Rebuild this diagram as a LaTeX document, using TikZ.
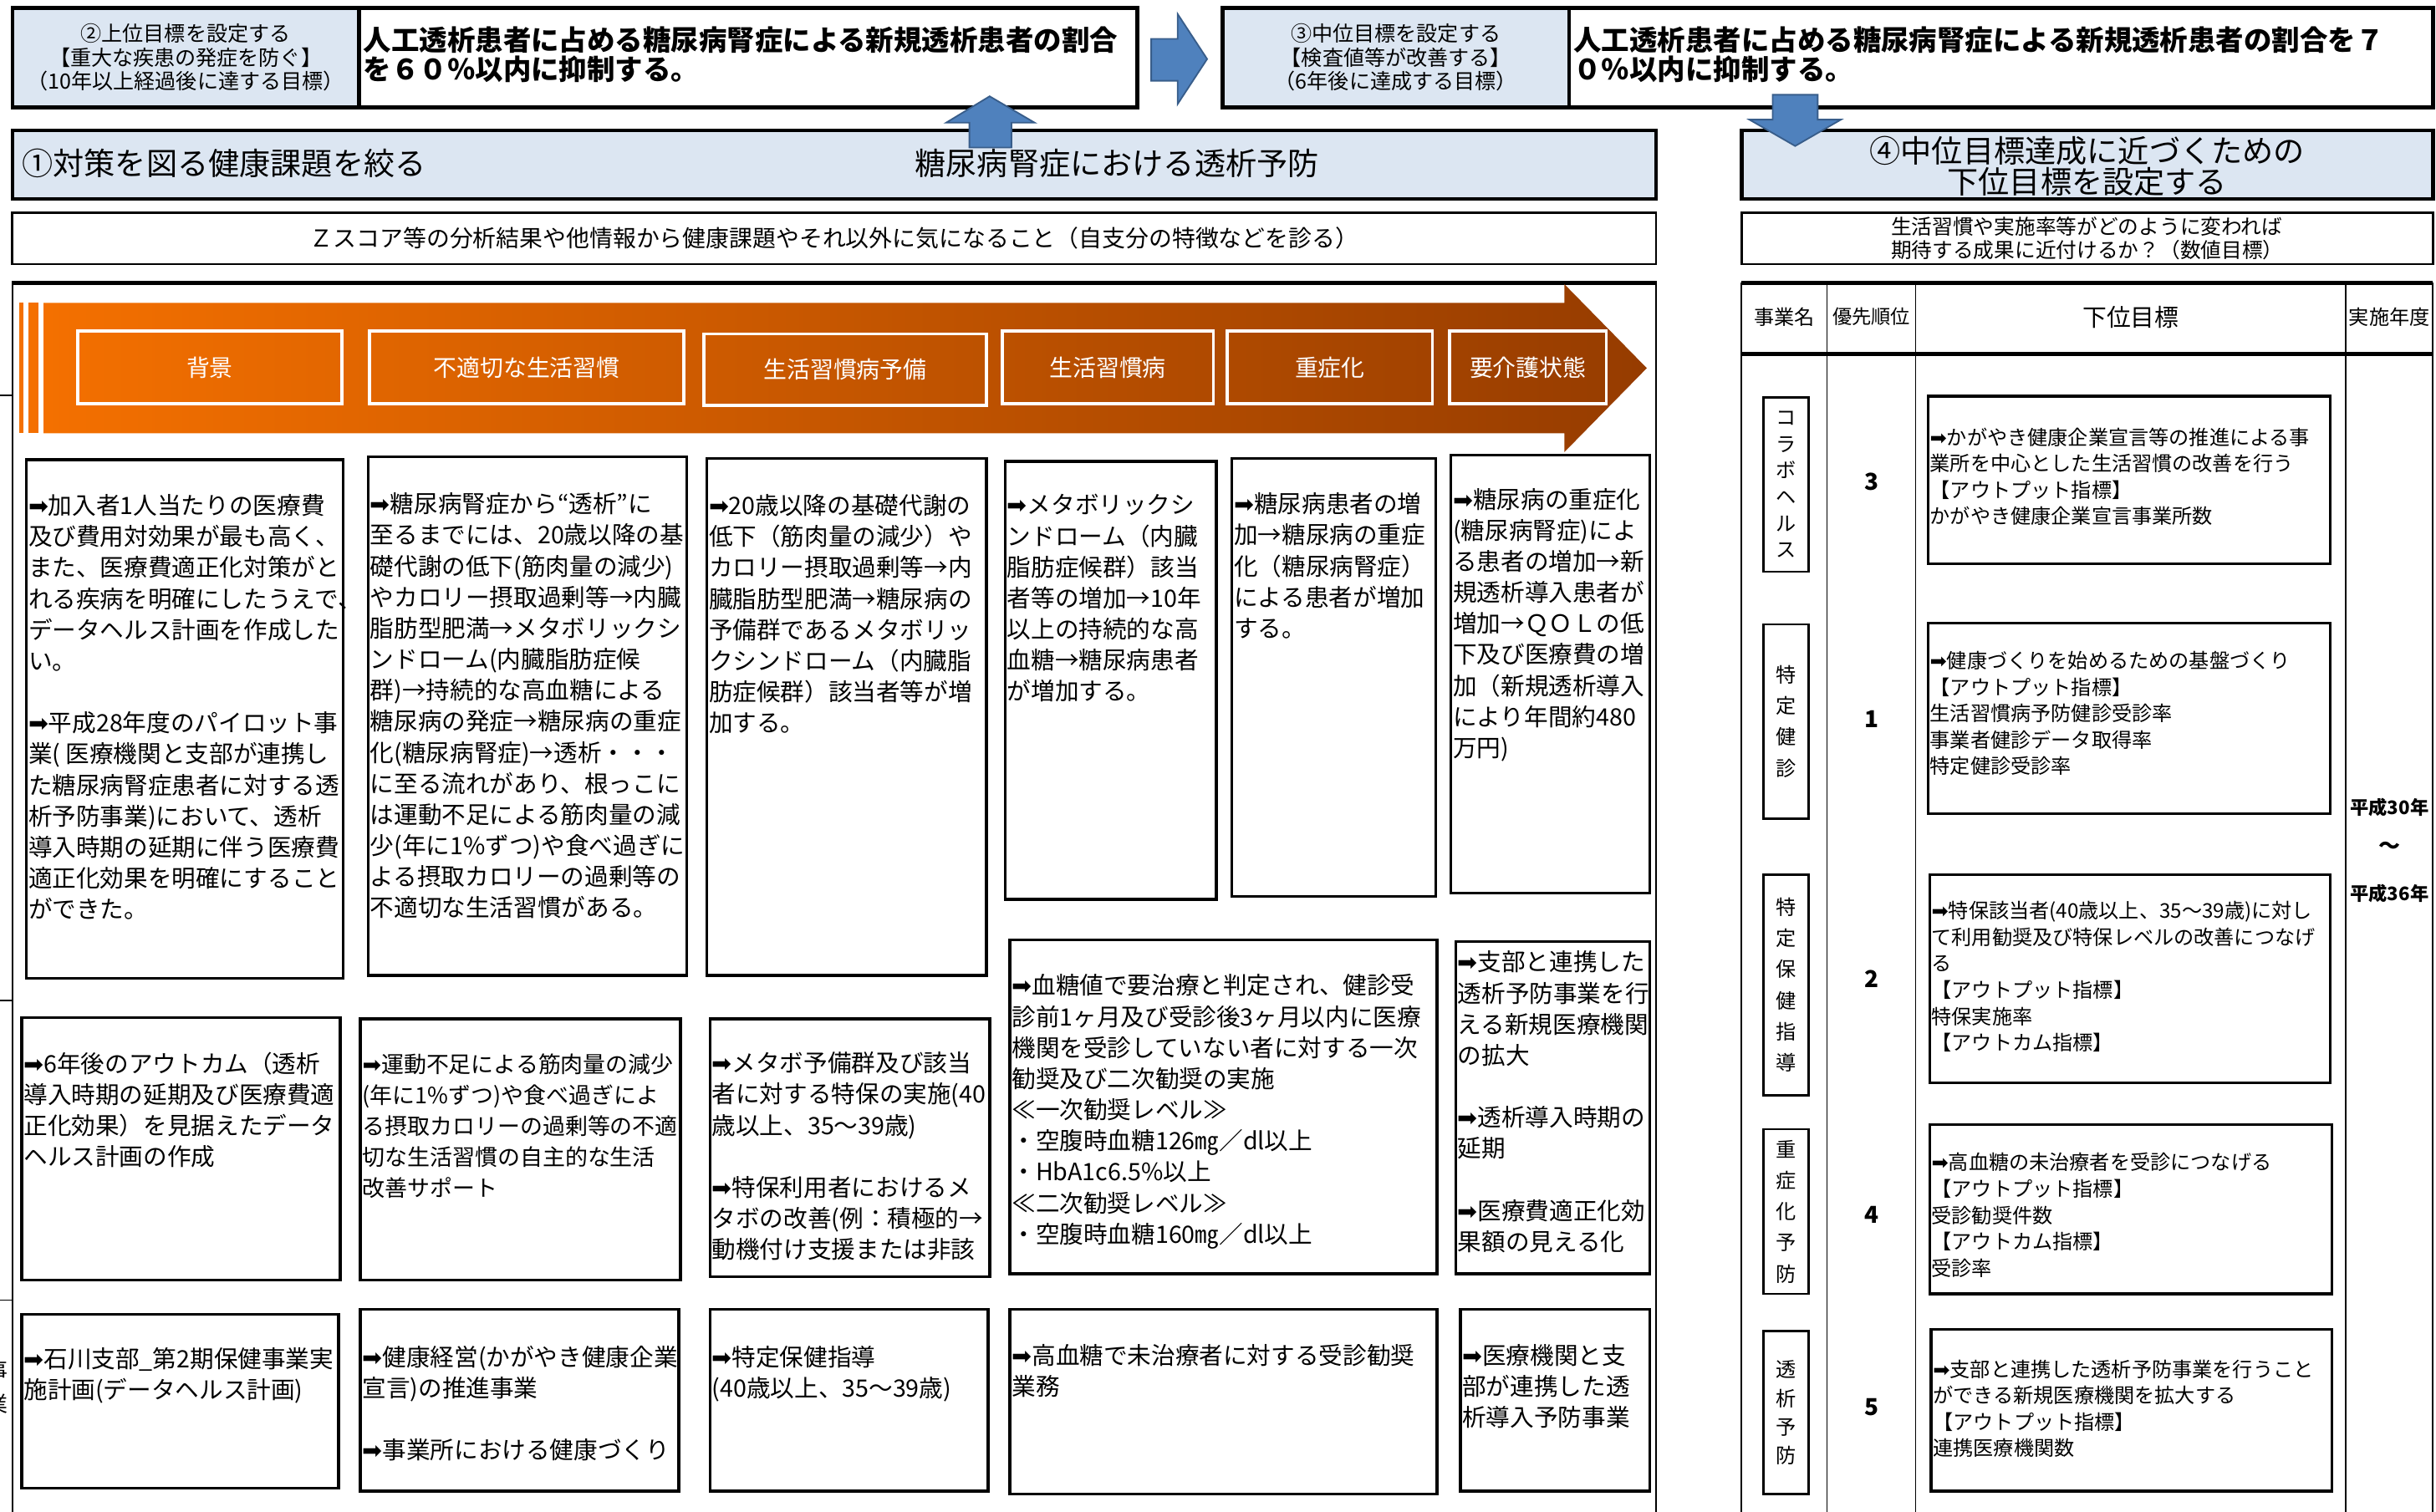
\documentclass[tikz,border=0pt]{standalone}
\usepackage{fontspec}
\setmainfont{Noto Sans CJK JP}
\newfontfamily\arrowfont{DejaVu Sans}
\usetikzlibrary{fit}

\definecolor{paleblue}{RGB}{220,230,242}
\definecolor{arrowblue}{RGB}{79,129,189}
\definecolor{arrowedge}{RGB}{56,93,138}
\definecolor{orangeL}{RGB}{244,112,0}
\definecolor{orangeR}{RGB}{150,60,0}

\newcommand{\goarrow}{{\arrowfont ➡}}

\begin{document}
\begin{tikzpicture}[
	x=1pt, y=-1pt,
	every node/.style={inner sep=0pt},
	label box/.style={draw, line width=2.5pt, fill=paleblue},
	label text/.style={align=center, font=\fontsize{13.5}{15.5}\selectfont},
	goal box/.style={draw, line width=2.5pt},
	goal line/.style={anchor=north west, align=left, font=\bfseries\fontsize{18}{19}\selectfont},
	head bar/.style={draw, line width=2.5pt, fill=paleblue},
	plain box/.style={draw, line width=1.5pt},
	stage box/.style={draw=white, line width=2pt},
	stage text/.style={text=white, font=\fontsize{15}{18}\selectfont},
	body box/.style={draw, line width=1.8pt},
	body text/.style={anchor=north west, align=left, font=\fontsize{15.4}{20}\selectfont},
	aim text/.style={anchor=north west, align=left, font=\fontsize{13}{17}\selectfont},
	name box/.style={draw, line width=1.5pt},
	name text/.style={align=center, font=\fontsize{13}{20}\selectfont},
	block arrow/.style={fill=arrowblue, draw=arrowedge, line width=1pt},
	rule/.style={line width=1pt},
	heavy rule/.style={line width=2.5pt}
]
\useasboundingbox (0,0) rectangle (1568,973);

% goals on top
\node[label box, fit={(8,5) (231,69)}] (upper) {};
\node[label text] (uppertag) at (upper.center) {②上位目標を設定する\\【重大な疾患の発症を防ぐ】\\（10年以上経過後に達する目標）};
\node[goal box, fit={(231,5) (732,69)}] (upperv) {};
\node[goal line] (uppert) at ([shift={(4,13)}]upperv.north west) {人工透析患者に占める糖尿病腎症による新規透析患者の割合\\を６０％以内に抑制する。};
\node[label box, fit={(787,5) (1010,69)}] (middle) {};
\node[label text] (middletag) at (middle.center) {③中位目標を設定する\\【検査値等が改善する】\\（6年後に達成する目標）};
\node[goal box, fit={(1010,5) (1566,69)}] (middlev) {};
\node[goal line] (middlet) at ([shift={(4,13)}]middlev.north west) {人工透析患者に占める糖尿病腎症による新規透析患者の割合を７\\０％以内に抑制する。};

% step bars
\node[head bar, fit={(8,84) (1066,128)}] (issue) {};
\node[anchor=west, font=\fontsize{20}{22}\selectfont] (issuel) at (14,105) {①対策を図る健康課題を絞る};
\node[font=\fontsize{20}{22}\selectfont] (issuer) at (719,105) {糖尿病腎症における透析予防};
\node[head bar, fit={(1121,84) (1566,128)}] (lower) {};
\node[align=center, font=\fontsize{20}{20}\selectfont] (lowert) at ([yshift=-1pt]lower.center) {④中位目標達成に近づくための\\下位目標を設定する};

\node[plain box, fit={(8,137) (1066,170)}] (zscore) {};
\node[font=\fontsize{15}{17}\selectfont] (zscoret) at (zscore.center) {Ｚスコア等の分析結果や他情報から健康課題やそれ以外に気になること（自支分の特徴などを診る）};
\node[plain box, fit={(1121,137) (1566,170)}] (howbox) {};
\node[align=left, font=\fontsize{13.3}{15}\selectfont] (howt) at (howbox.center) {生活習慣や実施率等がどのように変われば\\期待する成果に近付けるか？（数値目標）};

% left frame
\draw[heavy rule] (8,182) -- (1066,182);
\draw[rule] (8,181) -- (8,975);
\draw[rule] (1066,181) -- (1066,975);
\draw[rule] (0,254.5) -- (8,254.5);
\draw[rule] (0,644) -- (8,644);
\draw[rule] (0,837) -- (8,837);
\node[align=center, font=\fontsize{14}{22}\selectfont] (cutname) at (-2,893) {事\\業};

% orange banner
\shade[left color=orangeL, right color=orangeR] (28,195) -- (1007,195) -- (1007,183) -- (1060,237) -- (1007,291) -- (1007,279) -- (28,279) -- cycle;
\fill[orangeL] (12.5,195) rectangle (15,279);
\fill[orangeL] (18.5,195) rectangle (25,279);
\node[stage box, fit={(50,213) (220,260)}] (s1) {};
\node[stage box, fit={(238,213) (440,260)}] (s2) {};
\node[stage box, fit={(453,215) (635,261)}] (s3) {};
\node[stage box, fit={(645,213) (781,260)}] (s4) {};
\node[stage box, fit={(790,213) (922,260)}] (s5) {};
\node[stage box, fit={(933,213) (1034,260)}] (s6) {};
\node[stage text] (s1t) at (s1.center) {背景};
\node[stage text] (s2t) at (s2.center) {不適切な生活習慣};
\node[stage text] (s3t) at (s3.center) {生活習慣病予備};
\node[stage text] (s4t) at (s4.center) {生活習慣病};
\node[stage text] (s5t) at (s5.center) {重症化};
\node[stage text] (s6t) at (s6.center) {要介護状態};

% first row
\node[body box, fit={(17,296) (221,630)}] (a1) {};
\node[body text] (a1t) at ([shift={(2,23)}]a1.north west) {\goarrow 加入者1人当たりの医療費\\及び費用対効果が最も高く、\\また、医療費適正化対策がと\\れる疾病を明確にしたうえで、\\データヘルス計画を作成した\\い。\\[20pt]\goarrow 平成28年度のパイロット事\\業( 医療機関と支部が連携し\\た糖尿病腎症患者に対する透\\析予防事業)において、透析\\導入時期の延期に伴う医療費\\適正化効果を明確にすること\\ができた。};
\node[body box, fit={(237,294) (442,628)}] (a2) {};
\node[body text] (a2t) at ([shift={(2,24)}]a2.north west) {\goarrow 糖尿病腎症から“透析”に\\至るまでには、20歳以降の基\\礎代謝の低下(筋肉量の減少)\\やカロリー摂取過剰等→内臓\\脂肪型肥満→メタボリックシ\\ンドローム(内臓脂肪症候\\群)→持続的な高血糖による\\糖尿病の発症→糖尿病の重症\\化(糖尿病腎症)→透析・・・\\に至る流れがあり、根っこに\\は運動不足による筋肉量の減\\少(年に1\%ずつ)や食べ過ぎに\\よる摂取カロリーの過剰等の\\不適切な生活習慣がある。};
\node[body box, fit={(455,295) (635,628)}] (a3) {};
\node[body text] (a3t) at ([shift={(2,24)}]a3.north west) {\goarrow 20歳以降の基礎代謝の\\低下（筋肉量の減少）や\\カロリー摂取過剰等→内\\臓脂肪型肥満→糖尿病の\\予備群であるメタボリッ\\クシンドローム（内臓脂\\肪症候群）該当者等が増\\加する。};
\node[body box, fit={(647,297) (783,579)}] (a4) {};
\node[body text] (a4t) at ([shift={(2,22)}]a4.north west) {\goarrow メタボリックシ\\ンドローム（内臓\\脂肪症候群）該当\\者等の増加→10年\\以上の持続的な高\\血糖→糖尿病患者\\が増加する。};
\node[body box, fit={(793,295) (924,577)}] (a5) {};
\node[body text] (a5t) at ([shift={(2,23)}]a5.north west) {\goarrow 糖尿病患者の増\\加→糖尿病の重症\\化（糖尿病腎症）\\による患者が増加\\する。};
\node[body box, fit={(934,293) (1062,575)}] (a6) {};
\node[body text] (a6t) at ([shift={(2,22)}]a6.north west) {\goarrow 糖尿病の重症化\\(糖尿病腎症)によ\\る患者の増加→新\\規透析導入患者が\\増加→ＱＯＬの低\\下及び医療費の増\\加（新規透析導入\\により年間約480\\万円)};

% second row
\node[body box, fit={(14,655) (219,824)}] (b1) {};
\node[body text] (b1t) at ([shift={(2,23)}]b1.north west) {\goarrow 6年後のアウトカム（透析\\導入時期の延期及び医療費適\\正化効果）を見据えたデータ\\ヘルス計画の作成};
\node[body box, fit={(232,656) (438,824)}] (b2) {};
\node[body text, font=\fontsize{14.5}{20}\selectfont] (b2t) at ([shift={(2,23)}]b2.north west) {\goarrow 運動不足による筋肉量の減少\\(年に1\%ずつ)や食べ過ぎによ\\る摂取カロリーの過剰等の不適\\切な生活習慣の自主的な生活\\改善サポート};
\node[body box, fit={(457,656) (637,822)}] (b3) {};
\node[body text] (b3t) at ([shift={(2,22)}]b3.north west) {\goarrow メタボ予備群及び該当\\者に対する特保の実施(40\\歳以上、35～39歳)\\[20pt]\goarrow 特保利用者におけるメ\\タボの改善(例：積極的→\\動機付け支援または非該};
\node[body box, fit={(650,605) (925,820)}] (b4) {};
\node[body text] (b4t) at ([shift={(2,23)}]b4.north west) {\goarrow 血糖値で要治療と判定され、健診受\\診前1ヶ月及び受診後3ヶ月以内に医療\\機関を受診していない者に対する一次\\勧奨及び二次勧奨の実施\\≪一次勧奨レベル≫\\・空腹時血糖126㎎／dl以上\\・HbA1c6.5\%以上\\≪二次勧奨レベル≫\\・空腹時血糖160㎎／dl以上};
\node[body box, fit={(937,606) (1062,820)}] (b5) {};
\node[body text] (b5t) at ([shift={(2,7)}]b5.north west) {\goarrow 支部と連携した\\透析予防事業を行\\える新規医療機関\\の拡大\\[20pt]\goarrow 透析導入時期の\\延期\\[20pt]\goarrow 医療費適正化効\\果額の見える化};

% third row
\node[body box, fit={(14,846) (218,958)}] (c1) {};
\node[body text] (c1t) at ([shift={(2,22)}]c1.north west) {\goarrow 石川支部\_第2期保健事業実\\施計画(データヘルス計画)};
\node[body box, fit={(232,843) (437,960)}] (c2) {};
\node[body text] (c2t) at ([shift={(2,24)}]c2.north west) {\goarrow 健康経営(かがやき健康企業\\宣言)の推進事業\\[20pt]\goarrow 事業所における健康づくり};
\node[body box, fit={(457,843) (636,960)}] (c3) {};
\node[body text] (c3t) at ([shift={(2,24)}]c3.north west) {\goarrow 特定保健指導\\(40歳以上、35～39歳)};
\node[body box, fit={(650,843) (925,962)}] (c4) {};
\node[body text] (c4t) at ([shift={(2,23)}]c4.north west) {\goarrow 高血糖で未治療者に対する受診勧奨\\業務};
\node[body box, fit={(940,843) (1062,960)}] (c5) {};
\node[body text] (c5t) at ([shift={(2,23)}]c5.north west) {\goarrow 医療機関と支\\部が連携した透\\析導入予防事業};

% table of lower goals
\draw[heavy rule] (1121,182) -- (1566,182);
\draw[heavy rule] (1121,228) -- (1566,228);
\foreach \cx in {1121,1176,1233,1510,1566}
	\draw[rule] (\cx,182) -- (\cx,975);
\node[font=\fontsize{13}{15}\selectfont] (hname) at (1148.5,204) {事業名};
\node[font=\fontsize{12.5}{15}\selectfont] (hrank) at (1204.5,204) {優先順位};
\node[font=\fontsize{15.5}{17}\selectfont] (hgoal) at (1371.5,204) {下位目標};
\node[font=\fontsize{13}{15}\selectfont] (hyear) at (1538,204) {実施年度};

\node[name box, fit={(1135,256) (1164,368)}] (n1) {};
\node[name box, fit={(1135,402) (1164,527)}] (n2) {};
\node[name box, fit={(1135,563) (1164,705)}] (n3) {};
\node[name box, fit={(1135,727) (1164,833)}] (n4) {};
\node[name box, fit={(1135,857) (1164,962)}] (n5) {};
\node[name text, font=\fontsize{13}{17}\selectfont] (n1t) at (n1.center) {コ\\ラ\\ボ\\ヘ\\ル\\ス};
\node[name text] (n2t) at (n2.center) {特\\定\\健\\診};
\node[name text] (n3t) at (n3.center) {特\\定\\保\\健\\指\\導};
\node[name text] (n4t) at (n4.center) {重\\症\\化\\予\\防};
\node[name text, font=\fontsize{13}{18.5}\selectfont] (n5t) at (n5.center) {透\\析\\予\\防};

\foreach \num/\ry [count=\i] in {3/310,1/463,2/630,4/782,5/906}
	\node[font=\bfseries\fontsize{15}{17}\selectfont] (p\i) at (1205,\ry) {\num};

\node[body box, fit={(1241,255) (1500,363)}] (g1) {};
\node[aim text] (g1t) at ([shift={(2,21)}]g1.north west) {\goarrow かがやき健康企業宣言等の推進による事\\業所を中心とした生活習慣の改善を行う\\【アウトプット指標】\\かがやき健康企業宣言事業所数};
\node[body box, fit={(1241,401) (1500,524)}] (g2) {};
\node[aim text] (g2t) at ([shift={(2,19)}]g2.north west) {\goarrow 健康づくりを始めるための基盤づくり\\【アウトプット指標】\\生活習慣病予防健診受診率\\事業者健診データ取得率\\特定健診受診率};
\node[body box, fit={(1242,563) (1500,697)}] (g3) {};
\node[aim text] (g3t) at ([shift={(2,18)}]g3.north west) {\goarrow 特保該当者(40歳以上、35～39歳)に対し\\て利用勧奨及び特保レベルの改善につなげ\\る\\【アウトプット指標】\\特保実施率\\【アウトカム指標】};
\node[body box, fit={(1242,724) (1501,833)}] (g4) {};
\node[aim text] (g4t) at ([shift={(2,19)}]g4.north west) {\goarrow 高血糖の未治療者を受診につなげる\\【アウトプット指標】\\受診勧奨件数\\【アウトカム指標】\\受診率};
\node[body box, fit={(1243,856) (1501,960)}] (g5) {};
\node[aim text] (g5t) at ([shift={(2,20)}]g5.north west) {\goarrow 支部と連携した透析予防事業を行うこと\\ができる新規医療機関を拡大する\\【アウトプット指標】\\連携医療機関数};

\node[font=\bfseries\fontsize{12}{14}\selectfont] (yfrom) at (1538,520) {平成30年};
\node[font=\bfseries\fontsize{14}{14}\selectfont] (ytil) at (1538,546) {～};
\node[font=\bfseries\fontsize{12}{14}\selectfont] (yto) at (1538,575) {平成36年};

% block arrows
\filldraw[block arrow] (741,25) -- (758,25) -- (758,9) -- (777,38) -- (758,67) -- (758,52) -- (741,52) -- cycle;
\filldraw[block arrow] (624,95) -- (624,79) -- (609,79) -- (637,62) -- (666,79) -- (651,79) -- (651,95) -- cycle;
\filldraw[block arrow] (1141,61) -- (1170,61) -- (1170,77) -- (1185,77) -- (1155.5,94) -- (1126,77) -- (1141,77) -- cycle;
\end{tikzpicture}
\end{document}
